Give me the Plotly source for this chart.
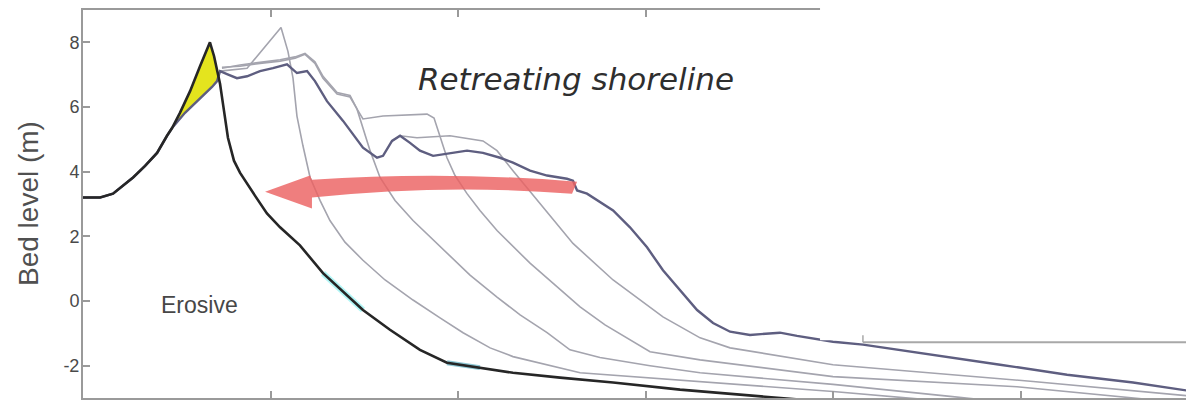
import plotly.graph_objects as go

# ---------------- data (cross-shore distance, bed level in m) ----------------
final_x = [0, 9.1, 16, 22.4, 26.7, 33.1, 39.5, 44.8, 47.5, 51.7, 57.1, 62.4, 67.7, 69.9, 72,
           73.1, 75.2, 77.3, 80.5, 83.7, 91.7, 98.1, 105.1, 115.7, 128, 139.7, 149.3, 163.7,
           179.7, 194.1, 211.7, 229.3, 254.4, 282.7, 318.4, 364.8, 382.4]
final_y = [3.2, 3.2, 3.32, 3.63, 3.82, 4.18, 4.58, 5.11, 5.35, 5.82, 6.49, 7.26, 8.0, 7.57, 7.05,
           6.71, 5.88, 5.05, 4.34, 3.97, 3.26, 2.71, 2.28, 1.72, 0.86, 0.25, -0.28, -0.89,
           -1.51, -1.91, -2.06, -2.22, -2.37, -2.52, -2.74, -2.95, -3.05]

initial_x = [0, 9.1, 16, 22.4, 26.7, 33.1, 39.5, 44.8, 47.5, 54.4, 62.4, 68.8, 71.5, 73.1,
             76.8, 82.1, 87.5, 94.4, 101.3, 108.8, 114.1, 119.5, 123.7, 130.1, 138.7, 149.3,
             156.8, 160, 164.8, 169.1, 174.4, 179.7, 186.7, 195.7, 204.8, 213.3, 222.4, 229.3,
             238.4, 247.5, 258.1, 261.3, 263.5, 268.8, 282.7, 291.7, 300.8, 309.3, 318.4,
             327.5, 336, 345.1, 355.7, 371.7, 380.8, 400, 416, 453.3, 489.1, 524.8, 560, 592.5]
initial_y = [3.2, 3.2, 3.32, 3.63, 3.82, 4.18, 4.58, 5.11, 5.35, 5.82, 6.25, 6.62, 6.8, 7.11,
             7.02, 6.89, 6.95, 7.11, 7.2, 7.32, 7.05, 7.11, 6.8, 6.18, 5.57, 4.74,
             4.43, 4.49, 4.95, 5.11, 4.89, 4.65, 4.49, 4.58, 4.65, 4.58, 4.43, 4.28,
             4.03, 3.88, 3.78, 3.72, 3.42, 3.32, 2.8, 2.28, 1.66, 0.95, 0.34,
             -0.28, -0.68, -0.95, -1.05, -0.98, -1.08, -1.26, -1.35, -1.66, -1.97, -2.28, -2.52, -2.8]

grayA_x = [73.1, 87.5, 105.6, 109.3, 112, 114.1, 117.3, 121.1, 126.4, 131.7, 139.7, 149.3, 161.1,
           176, 190.4, 202.7, 217.1, 229.3, 265.1, 329.1, 400, 435.7, 462.4]
grayA_y = [7.11, 7.2, 8.46, 7.72, 6.89, 5.72, 4.8, 3.82, 3.11, 2.49, 1.82, 1.26, 0.65,
           0.03, -0.52, -0.98, -1.45, -1.72, -2.22, -2.49, -2.8, -2.98, -3.11]

grayB_x = [74.1, 83.7, 94.4, 105.1, 113.1, 118.4, 123.7, 128, 135.5, 142.4, 146.1, 148.8, 153.1,
           158.4, 166.4, 176, 194.1, 206.4, 220.8, 233.1, 247.5, 259.7, 275.7, 302.4, 329.1,
           400, 462.4, 489.1]
grayB_y = [7.23, 7.26, 7.35, 7.42, 7.51, 7.63, 7.35, 6.89, 6.4, 6.31, 5.94, 5.42, 4.65,
           3.82, 3.11, 2.49, 1.48, 0.8, 0.12, -0.43, -0.98, -1.51, -1.75, -2.0, -2.22,
           -2.58, -2.95, -3.11]

grayC_x = [74.1, 83.7, 94.4, 105.1, 113.1, 118.4, 123.7, 128, 135.5, 142.4, 146.1, 149.3, 160,
           171.7, 183.5, 187.2, 190.4, 194.1, 198.4, 204.8, 211.7, 220.8, 238.4, 251.7, 265.1,
           278.4, 291.7, 302.4, 329.1, 400, 498.1, 551.5, 595.7]
grayC_y = [7.2, 7.3, 7.38, 7.46, 7.55, 7.66, 7.4, 6.95, 6.45, 6.36, 5.94, 5.63, 5.72,
           5.75, 5.78, 5.66, 5.11, 4.43, 3.88, 3.32, 2.8, 2.18, 1.17, 0.49, -0.18,
           -0.74, -1.2, -1.57, -1.82, -2.34, -2.65, -2.95, -3.2]

grayD_x = [164.8, 169.1, 178.1, 195.7, 213.3, 220.8, 229.3, 243.7, 261.3, 282.7, 297.1, 309.3,
           329.1, 345.1, 400, 506.7, 592.5]
grayD_y = [4.95, 5.11, 5.05, 5.11, 4.95, 4.65, 4.03, 3.02, 1.78, 0.65, 0.03, -0.49,
           -1.14, -1.45, -1.97, -2.49, -2.95]

x_ticks = [0, 100, 200, 300, 400, 500]
y_ticks = [-2, 0, 2, 4, 6, 8]
y_ticktext = ["-2", "0", "2", "4", "6", "8"]

# ---------------- figure ----------------
fig = go.Figure()

GRAY = "#a4a4ae"
for gx, gy in [(grayA_x, grayA_y), (grayB_x, grayB_y), (grayC_x, grayC_y), (grayD_x, grayD_y)]:
    fig.add_trace(go.Scatter(x=gx, y=gy, mode="lines", line=dict(color=GRAY, width=1.6),
                             hoverinfo="skip", showlegend=False))

# yellow accretion wedge between final (above) and initial (below)
top = [(x, y) for x, y in zip(final_x, final_y) if 47.5 <= x <= 72]
bot = [(x, y) for x, y in zip(initial_x, initial_y) if 47.5 <= x <= 71.5][::-1]
poly = top + bot
fig.add_trace(go.Scatter(x=[p[0] for p in poly], y=[p[1] for p in poly], mode="lines",
                         fill="toself", fillcolor="#e4e41e", line=dict(color="#e4e41e", width=0.5),
                         hoverinfo="skip", showlegend=False))

fig.add_trace(go.Scatter(x=initial_x, y=initial_y, mode="lines",
                         line=dict(color="#5e5e80", width=2.4), hoverinfo="skip", showlegend=False))

# cyan / teal erosion tint along final profile
seg1 = [(x, y) for x, y in zip(final_x, final_y) if 126 <= x <= 150]
seg2 = [(x, y) for x, y in zip(final_x, final_y) if 180 <= x <= 212]
fig.add_trace(go.Scatter(x=[p[0] for p in seg1], y=[p[1] for p in seg1], mode="lines",
                         line=dict(color="rgba(0,225,225,0.3)", width=6), hoverinfo="skip", showlegend=False))
fig.add_trace(go.Scatter(x=[p[0] for p in seg2], y=[p[1] for p in seg2], mode="lines",
                         line=dict(color="rgba(0,130,160,0.45)", width=5), hoverinfo="skip", showlegend=False))

fig.add_trace(go.Scatter(x=final_x, y=final_y, mode="lines",
                         line=dict(color="#262626", width=2.6), hoverinfo="skip", showlegend=False))

AX = "#9a9a9a"
# page body has an 8px margin, so the figure is sized/offset to compensate
fig.update_layout(
    width=1186, height=411,
    margin=dict(l=75, r=0, t=0, b=21),
    plot_bgcolor="white", paper_bgcolor="white",
    showlegend=False,
)
fig.update_xaxes(range=[0, 592.5], showgrid=False, zeroline=False, showline=True,
                 linecolor=AX, linewidth=2, mirror="ticks", ticks="inside", ticklen=7,
                 tickcolor=AX, tickwidth=1.5, tickvals=x_ticks, showticklabels=False)
fig.update_yaxes(range=[-3, 9], showgrid=False, zeroline=False, showline=True,
                 linecolor=AX, linewidth=2, ticks="inside", ticklen=7, tickcolor=AX,
                 tickwidth=1.5, tickvals=y_ticks, ticktext=y_ticktext,
                 tickfont=dict(family="Liberation Sans", size=18, color="#4a4a4a"),
                 ticklabelstandoff=-2)

# red retreat arrow (curved band with head)
arrow_path = ("M 263.5,3.69 Q 193.1,4.03 122.1,3.75 L 121.1,3.88 L 97.1,3.38 "
              "L 122.1,2.86 L 122.1,3.2 Q 193.1,3.63 260.8,3.32 Z")
shapes = [
    dict(type="path", path=arrow_path, xref="x", yref="y", fillcolor="rgba(236,98,98,0.82)",
         line=dict(width=0), layer="above"),
    # white overlay panel at upper right
    dict(type="rect", xref="paper", yref="paper", x0=0.6634, x1=0.9946, y0=0.1487, y1=1.01,
         fillcolor="white", line=dict(width=0), layer="above"),
    dict(type="line", xref="paper", yref="paper", x0=0.702, x1=1.0, y0=0.1436, y1=0.1436,
         line=dict(color="#a8a8a8", width=2), layer="above"),
    dict(type="line", xref="paper", yref="paper", x0=0.702, x1=0.702, y0=0.1436, y1=0.162,
         line=dict(color="#a8a8a8", width=1.5), layer="above"),
]
fig.update_layout(shapes=shapes)

fig.add_annotation(x=263, y=6.88, xref="x", yref="y", text="<i>Retreating shoreline</i>",
                   showarrow=False, xanchor="center", yanchor="middle",
                   font=dict(family="DejaVu Sans", size=31, color="#2e2e2e"))
fig.add_annotation(x=61.9, y=-0.12, xref="x", yref="y", text="Erosive", showarrow=False,
                   xanchor="center", yanchor="middle",
                   font=dict(family="Liberation Sans", size=23, color="#474747"))
fig.add_annotation(x=-0.0495, y=0.5, xref="paper", yref="paper", text="Bed level (m)",
                   textangle=-90, showarrow=False, xanchor="center", yanchor="middle",
                   font=dict(family="Liberation Sans", size=28, color="#505050"))

fig.write_html("out.html")
